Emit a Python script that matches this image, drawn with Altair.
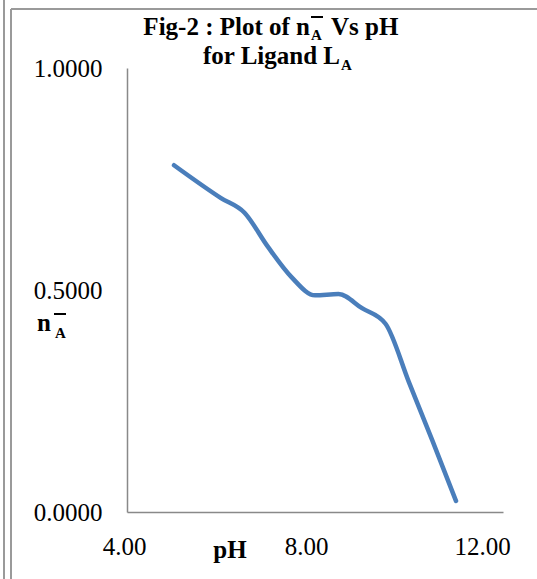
import altair as alt
import pandas as pd

# ---- data ----
ph = [5.0, 6.0, 6.5, 7.0, 7.5, 8.0, 8.5, 9.0, 9.5, 10.0, 10.5, 11.0]
n_a = [0.781, 0.707, 0.674, 0.597, 0.529, 0.488, 0.491, 0.459, 0.424, 0.292, 0.160, 0.025]
x_ticks = [4, 8, 12]
y_ticks = [0.0, 0.5, 1.0]

FONT = "Liberation Serif"
OX, OY = 127, 68          # plot origin in page pixels
W, H = 376, 444

df = pd.DataFrame({"pH": ph, "nA": n_a})
dummy = pd.DataFrame({"d": [0]})

line = alt.Chart(df).mark_line(
    color="#4a7ebb", strokeWidth=4.5, strokeCap="round", interpolate="monotone"
).encode(
    x=alt.X("pH:Q", scale=alt.Scale(domain=[4, 12], nice=False),
            axis=alt.Axis(values=x_ticks, format=".2f", title=None, labelFlush=False,
                          labelOffset=alt.ExprRef("datum.value == 12 ? -21 : (datum.value == 8 ? -9 : -3)"),
                          labelPadding=22)),
    y=alt.Y("nA:Q", scale=alt.Scale(domain=[0, 1], nice=False),
            axis=alt.Axis(values=y_ticks, format=".4f", title=None, labelPadding=25,
                          labelFlush=False)),
)


def txt(s, X, Y, size=25, bold=True, align="left"):
    return alt.Chart(dummy).mark_text(
        text=s, align=align, baseline="alphabetic", font=FONT, fontSize=size,
        fontWeight="bold" if bold else "normal", color="black"
    ).encode(x=alt.value(X - OX), y=alt.value(Y - OY))


def hrule(X1, X2, Y, color="black", width=2.0):
    return alt.Chart(dummy).mark_rule(color=color, strokeWidth=width).encode(
        x=alt.value(X1 - OX), x2=alt.value(X2 - OX), y=alt.value(Y - OY))


def vrule(X, Y1, Y2, color="#9a9a9a", width=2.0):
    return alt.Chart(dummy).mark_rule(color=color, strokeWidth=width).encode(
        x=alt.value(X - OX), y=alt.value(Y1 - OY), y2=alt.value(Y2 - OY))


layers = [
    # frame decoration
    vrule(4, 0, 579),
    vrule(11, 9, 579),
    hrule(11, 537, 9, color="#9a9a9a", width=2.0),
    line,
    # title line 1
    txt("Fig-2 : Plot of n", 310, 35, align="right"),
    hrule(311, 323, 17),
    txt("A", 311, 40, size=15),
    txt("Vs pH", 331, 35),
    # title line 2
    txt("for Ligand L", 340, 64, align="right"),
    txt("A", 341, 70, size=15),
    # x axis title
    txt("pH", 230, 558, align="center"),
    # y axis title
    txt("n", 37, 331),
    hrule(54, 66, 314),
    txt("A", 55, 338, size=15),
]

chart = alt.layer(*layers).properties(
    width=W, height=H,
    padding={"left": OX, "top": OY, "right": 537 - OX - W, "bottom": 579 - OY - H},
    autosize=alt.AutoSizeParams(type="none"),
    background="white",
).configure_view(stroke=None).configure_axis(
    grid=False, ticks=False, domainColor="#898989", domainWidth=1.5,
    labelFont=FONT, labelFontSize=25, labelColor="black",
)

chart.save("out.html", embed_options={"renderer": "svg", "actions": False})
